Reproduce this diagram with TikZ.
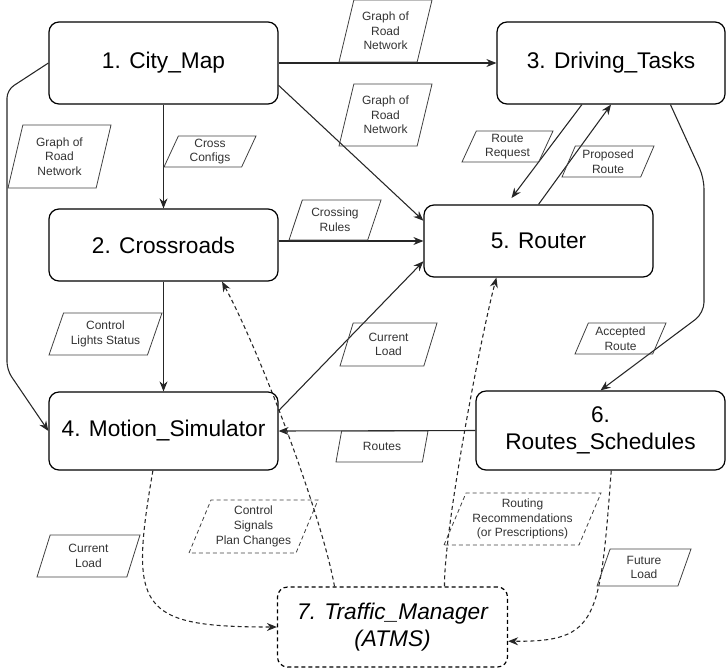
\documentclass[tikz,border=0pt]{standalone}
\usepackage{fontspec}
\setmainfont{Liberation Sans}
\usetikzlibrary{shapes.geometric,arrows.meta}

\begin{document}
\begin{tikzpicture}[x=0.75pt,y=0.75pt,yscale=-1,xscale=1,
	module/.style={draw, rounded corners=7.5pt, line width=0.9pt, align=center, inner sep=1pt, font=\fontsize{17}{20}\selectfont},
	dataflow/.style={draw=black!75, text=black!80, line width=0.6pt, trapezium, trapezium left angle=63, trapezium right angle=117, trapezium stretches body, align=center, inner sep=1pt, font=\fontsize{9}{11}\selectfont},
	link/.style={line width=0.8pt, draw=black!85, -{Stealth[length=7.5pt,width=6pt]}},
	dlink/.style={link, dash pattern=on 3pt off 2.25pt}]
	\path[use as bounding box] (0,0) rectangle (727,668);
	
	%Shape: Rounded Rect
	\node[module, minimum width=171.75pt, minimum height=61.5pt] (map) at (163.5,63) {1. City\_Map};
	%Shape: Rounded Rect
	\node[module, minimum width=171.75pt, minimum height=54pt] (cross) at (163.5,245) {2. Crossroads};
	%Shape: Rounded Rect
	\node[module, minimum width=171pt, minimum height=61.5pt] (tasks) at (611,63) {3. Driving\_Tasks};
	%Shape: Rounded Rect
	\node[module, minimum width=171.75pt, minimum height=58.5pt] (sim) at (163.5,431) {4. Motion\_Simulator};
	%Shape: Rounded Rect
	\node[module, minimum width=171.75pt, minimum height=54pt] (router) at (538.5,241) {5. Router};
	%Shape: Rounded Rect
	\node[module, minimum width=186.75pt, minimum height=59.25pt] (sched) at (600.5,430.5) {6.\\Routes\_Schedules};
	%Shape: Rounded Rect
	\node[module, dash pattern=on 3pt off 2.25pt, minimum width=172.5pt, minimum height=60pt, font=\fontsize{17}{20}\selectfont\itshape] (atms) at (392.5,627) {7. Traffic\_Manager\\(ATMS)};
	
	%Straight Lines
	\draw[link] (map.east) -- (tasks.west);
	%Straight Lines
	\draw[link] (map.-11) -- (router.170);
	%Straight Lines
	\draw[link] (map.south) -- (cross.north);
	%Straight Lines
	\draw[link, rounded corners=6pt] (map.west) -- (7,90) -- (7,370) -- (sim.west);
	%Straight Lines
	\draw[link] (cross.east |- router.west) -- (router.west);
	%Straight Lines
	\draw[link] (cross.south) -- (sim.north);
	%Straight Lines
	\draw[link] (sim.10) -- (router.190);
	%Straight Lines
	\draw[link] (sched.west) -- (sim.east);
	%Straight Lines
	\draw[link, shorten >=6pt] (tasks.235) -- (router.131);
	%Straight Lines
	\draw[link] (router.north) -- (tasks.south);
	%Straight Lines
	\draw[link, rounded corners=8pt] (tasks.-35) -- (704,178) -- (704,313) -- (sched.north);
	
	%Curve Lines
	\draw[dlink] (sim.-105) .. controls (129,609) and (138,627) .. (atms.west);
	%Curve Lines
	\draw[dlink] (atms.145) .. controls (322,517) and (262,356) .. (cross.-32);
	%Curve Lines
	\draw[dlink] (atms.38) .. controls (444,530) and (480,340) .. (router.-139);
	%Curve Lines
	\draw[dlink] (sched.-75) .. controls (600,620) and (598,642) .. (atms.-7);
	
	% Text Node
	\node[dataflow, trapezium left angle=70, trapezium right angle=110, minimum width=69.75pt, minimum height=46.5pt] (graphtop) at (385.5,31) {Graph of\\Road\\Network};
	% Text Node
	\node[dataflow, trapezium left angle=70, trapezium right angle=110, minimum width=69.75pt, minimum height=46.5pt] (graphmid) at (385.5,115) {Graph of\\Road\\Network};
	% Text Node
	\node[dataflow, trapezium left angle=70, trapezium right angle=110, minimum width=77.25pt, minimum height=47.25pt] (graphleft) at (59.5,156.5) {Graph of\\Road\\Network};
	% Text Node
	\node[dataflow, minimum width=69pt, minimum height=23.25pt] (configs) at (210,151.5) {Cross\\Configs};
	% Text Node
	\node[dataflow, minimum width=69pt, minimum height=30pt] (rules) at (335,220) {Crossing\\Rules};
	% Text Node
	\node[dataflow, minimum width=68.25pt, minimum height=23.25pt] (request) at (507.5,146.5) {Route\\Request};
	% Text Node
	\node[dataflow, minimum width=69pt, minimum height=23.25pt] (proposed) at (608,161.5) {Proposed\\Route};
	% Text Node
	\node[dataflow, minimum width=84.75pt, minimum height=31.5pt] (lights) at (105.5,334) {Control\\Lights Status};
	% Text Node
	\node[dataflow, minimum width=72.75pt, minimum height=32.25pt] (loadmid) at (388.5,344.5) {Current\\Load};
	% Text Node
	\node[dataflow, minimum width=68.25pt, minimum height=23.25pt] (accepted) at (620.5,338.5) {Accepted\\Route};
	% Text Node
	\node[dataflow, minimum width=69pt, minimum height=23.25pt] (routes) at (382,446.5) {Routes};
	% Text Node
	\node[dataflow, dash pattern=on 3pt off 2.25pt, minimum width=96.75pt, minimum height=39.75pt] (signals) at (253.5,526.5) {Control\\Signals\\Plan Changes};
	% Text Node
	\node[dataflow, minimum width=77.25pt, minimum height=31.5pt] (loadleft) at (88.5,556) {Current\\Load};
	% Text Node
	\node[dataflow, dash pattern=on 3pt off 2.25pt, minimum width=117.75pt, minimum height=39pt] (advice) at (522.5,519) {Routing\\Recommendations\\(or Prescriptions)};
	% Text Node
	\node[dataflow, minimum width=70.5pt, minimum height=27.75pt] (future) at (644,567.5) {Future\\Load};
	
\end{tikzpicture}
\end{document}
